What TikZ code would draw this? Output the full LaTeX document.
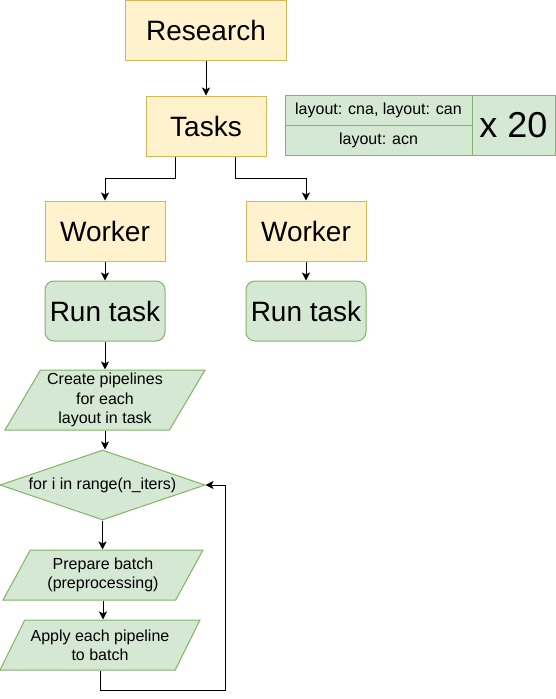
\documentclass[tikz,border=0pt]{standalone}
\usepackage{fontspec}
\setmainfont{Liberation Sans}
\usetikzlibrary{arrows.meta,shapes.geometric}
\definecolor{ylwfill}{HTML}{FFF2CC}
\definecolor{ylwline}{HTML}{D6B656}
\definecolor{grnfill}{HTML}{D5E8D4}
\definecolor{grnline}{HTML}{82B366}

\begin{document}
\begin{tikzpicture}[x=1pt, y=-1pt, line width=1pt,
	big/.style={font=\fontsize{28}{33}\selectfont},
	small/.style={font=\fontsize{16}{19.2}\selectfont, align=center},
	ybox/.style={big, draw=ylwline, fill=ylwfill, minimum width=120pt, minimum height=60pt, inner sep=0pt},
	gbox/.style={big, draw=grnline, fill=grnfill, rounded corners=9pt, minimum width=120pt, minimum height=60pt, inner sep=0pt},
	cell/.style={small, draw=grnline, fill=grnfill, inner sep=0pt},
	para/.style={small, trapezium, trapezium stretches body, draw=grnline, fill=grnfill, inner sep=0pt, minimum width=200pt},
	loopbox/.style={small, diamond, shape aspect=2.93, draw=grnline, fill=grnfill, inner sep=0pt, minimum width=205pt, minimum height=70pt},
	arr/.style={-{Stealth[length=8pt,width=8pt,inset=2pt]}}]
	\useasboundingbox (0,0) rectangle (556,699);
	\node[ybox, minimum width=161pt] (res)   at (206,30.5)   {Research};
	\node[ybox]                      (tasks) at (206,126)    {Tasks};
	\node[ybox]                      (wA)    at (105,231)    {Worker};
	\node[ybox]                      (wB)    at (306,231)    {Worker};
	\node[gbox]                      (runA)  at (105,311)    {Run task};
	\node[gbox]                      (runB)  at (306,311)    {Run task};
	\node[para, minimum height=60pt, trapezium left angle=56.31, trapezium right angle=123.69]
	                                 (pipes) at (105,400)    {Create pipelines\\for each\\ layout in task};
	\node[loopbox]                   (iter)  at (102.5,485)  {for i in range(n\_iters)};
	\node[para, minimum height=50pt, trapezium left angle=51.34, trapezium right angle=128.66]
	                                 (prep)  at (103,575)    {Prepare batch\\(preprocessing)};
	\node[para, minimum height=50pt, trapezium left angle=51.34, trapezium right angle=128.66]
	                                 (apply) at (100,645)    {Apply each pipeline\\to batch};
	%layouts
	\node[cell, minimum width=187pt, minimum height=30pt] (lay1)  at (378.5,110) {layout: cna, layout: can};
	\node[cell, minimum width=187pt, minimum height=30pt] (lay2)  at (378.5,140) {layout: acn};
	\node[cell, minimum width=83pt, minimum height=60pt, font=\fontsize{36}{40}\selectfont]
	                                                      (times) at (513.5,125) {x 20};
	\draw[arr] (res) -- (tasks);
	\draw[arr] ([xshift=-31pt]tasks.south) -- ++(0,22) -| (wA.north);
	\draw[arr] ([xshift=29pt]tasks.south)  -- ++(0,22) -| (wB.north);
	\draw[arr] (wA) -- (runA);
	\draw[arr] (wB) -- (runB);
	\draw[arr] (runA) -- (pipes);
	\draw[arr] (pipes.south) -- (pipes.south |- iter.north);
	\draw[arr] (iter.south) -- (iter.south |- prep.north);
	\draw[arr] (prep.south) -- (prep.south |- apply.north);
	%back
	\draw[arr] (apply.south) -- ++(0,20) -| ([xshift=20pt]iter.east) -- (iter.east);
\end{tikzpicture}
\end{document}
